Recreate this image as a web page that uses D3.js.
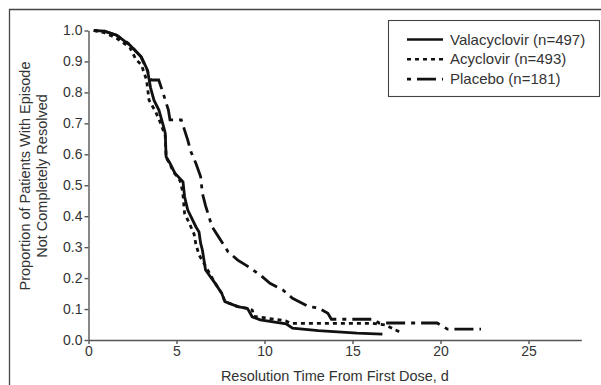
<!DOCTYPE html>
<html>
<head>
<meta charset="utf-8">
<script src="https://cdn.jsdelivr.net/npm/d3@7"></script>
<style>
  body { margin: 0; background: #fff; }
  text { font-family: "Liberation Sans", Arial, sans-serif; fill: #333; }
</style>
</head>
<body>
<div id="my_dataviz"></div>
<script>
var width = 601,
    height = 385

// tick values
var xTicks = [0, 5, 10, 15, 20, 25]
var yTicks = [0, 0.1, 0.2, 0.3, 0.4, 0.5, 0.6, 0.7, 0.8, 0.9, 1.0]

// Valacyclovir (solid)
var valaDays = [0.3, 0.9, 1.6, 2.35, 2.7, 3.0, 3.35, 3.53, 3.72, 4.0, 4.27, 4.36, 4.41, 4.63, 4.91, 5.37, 5.46, 5.64, 6.1, 6.28, 6.37, 6.47, 6.65, 7.2, 7.57, 7.75, 8.48, 9.03, 9.3, 9.76, 11.23, 11.59, 13.06, 15.26, 16.7]
var valaProp = [1.0, 0.998, 0.985, 0.953, 0.932, 0.915, 0.872, 0.814, 0.775, 0.743, 0.689, 0.668, 0.592, 0.571, 0.539, 0.511, 0.463, 0.42, 0.366, 0.349, 0.313, 0.291, 0.226, 0.183, 0.151, 0.124, 0.108, 0.102, 0.075, 0.065, 0.052, 0.038, 0.030, 0.022, 0.019]

// Acyclovir (dotted)
var acyDays = [0.3, 0.9, 1.6, 2.35, 2.71, 3.0, 3.3, 3.44, 3.81, 4.1, 4.36, 4.41, 4.63, 4.82, 5.2, 5.35, 5.46, 5.73, 6.0, 6.1, 6.28, 6.54, 7.2, 7.57, 7.75, 8.48, 9.03, 9.3, 9.4, 9.95, 11.2, 11.5, 16.15, 16.9, 17.46, 17.7]
var acyProp = [1.0, 0.993, 0.975, 0.945, 0.905, 0.89, 0.84, 0.775, 0.738, 0.70, 0.66, 0.59, 0.568, 0.544, 0.515, 0.48, 0.409, 0.377, 0.342, 0.31, 0.275, 0.25, 0.183, 0.151, 0.124, 0.108, 0.102, 0.097, 0.076, 0.072, 0.062, 0.054, 0.054, 0.048, 0.032, 0.025]

// Placebo (dash-dot)
var placDays = [0.3, 0.9, 1.6, 2.35, 2.98, 3.35, 3.55, 3.99, 4.18, 4.54, 4.63, 5.27, 5.64, 5.82, 6.1, 6.37, 6.47, 6.65, 7.02, 7.38, 7.93, 8.48, 8.94, 9.76, 10.31, 11.04, 11.59, 12.14, 12.51, 13.06, 13.6, 13.8, 16.2, 16.5, 19.8, 20.4, 22.3]
var placProp = [1.0, 0.998, 0.985, 0.955, 0.915, 0.87, 0.84, 0.84, 0.808, 0.743, 0.711, 0.711, 0.646, 0.608, 0.571, 0.528, 0.474, 0.434, 0.366, 0.334, 0.285, 0.258, 0.242, 0.21, 0.183, 0.162, 0.135, 0.119, 0.108, 0.104, 0.086, 0.067, 0.067, 0.055, 0.055, 0.035, 0.035]

var seriesNames = ["Valacyclovir (n=497)", "Acyclovir (n=493)", "Placebo (n=181)"]
var dashes = ["none", "4,4", "4,6,19,6"]

var svg = d3.select("#my_dataviz")
  .append("svg")
    .attr("width", width)
    .attr("height", height)

// outer frame (top and left edges only)
svg.append("path")
  .attr("d", "M9.5,385V9.5H601")
  .attr("fill", "none")
  .attr("stroke", "#444")
  .attr("stroke-width", 1.3)

var x = d3.scaleLinear()
  .domain([0, 28])
  .range([88.5, 581.3])

var y = d3.scaleLinear()
  .domain([0, 1])
  .range([340, 30.5])

var xAxis = svg.append("g")
  .attr("transform", "translate(0,340)")
  .call(d3.axisBottom(x).tickValues(xTicks).tickSize(4).tickSizeOuter(0))

var yAxis = svg.append("g")
  .attr("transform", "translate(88.5,0)")
  .call(d3.axisLeft(y).tickValues(yTicks).tickSize(4).tickSizeOuter(0).tickFormat(d3.format(".1f")))

svg.selectAll(".domain, .tick line")
  .attr("stroke", "#555")
  .attr("stroke-width", 1.4)

xAxis.selectAll("text")
  .attr("y", 6)
  .style("font-size", "14px")
  .style("font-family", "'Liberation Sans', Arial, sans-serif")
  .attr("fill", "#333")

yAxis.selectAll("text")
  .attr("x", -6)
  .style("font-size", "14px")
  .style("font-family", "'Liberation Sans', Arial, sans-serif")
  .attr("fill", "#333")

// axis titles
svg.append("text")
  .attr("x", (x(0) + x(28)) / 2)
  .attr("y", 381)
  .attr("text-anchor", "middle")
  .style("font-size", "14.5px")
  .text("Resolution Time From First Dose, d")

var yTitle = svg.append("text")
  .attr("transform", "translate(30,176) rotate(-90)")
  .attr("text-anchor", "middle")
  .style("font-size", "14.5px")
yTitle.append("tspan").attr("x", 0).attr("y", 0).text("Proportion of Patients With Episode")
yTitle.append("tspan").attr("x", 0).attr("y", 17).text("Not Completely Resolved")

// curves
var curves = [
  d3.zip(valaDays, valaProp),
  d3.zip(acyDays, acyProp),
  d3.zip(placDays, placProp)
]

var line = d3.line()
  .x(function(d) { return x(d[0]) })
  .y(function(d) { return y(d[1]) })

svg.selectAll("curves")
  .data(curves)
  .enter()
  .append("path")
    .attr("d", line)
    .attr("fill", "none")
    .attr("stroke", "#111")
    .attr("stroke-width", 2.8)
    .attr("stroke-dasharray", function(d, i) { return dashes[i] })

// legend
svg.append("rect")
  .attr("x", 388.5)
  .attr("y", 20.5)
  .attr("width", 211)
  .attr("height", 76)
  .attr("fill", "#fff")
  .attr("stroke", "#444")
  .attr("stroke-width", 1.1)

svg.selectAll("legendlines")
  .data(seriesNames)
  .enter()
  .append("line")
    .attr("x1", 407)
    .attr("x2", 443)
    .attr("y1", function(d, i) { return 39.5 + i * 19.8 })
    .attr("y2", function(d, i) { return 39.5 + i * 19.8 })
    .attr("stroke", "#111")
    .attr("stroke-width", 2.6)
    .attr("stroke-dasharray", function(d, i) { return dashes[i] })

svg.selectAll("legendlabels")
  .data(seriesNames)
  .enter()
  .append("text")
    .attr("x", 450)
    .attr("y", function(d, i) { return 44.5 + i * 19.8 })
    .style("font-size", "15px")
    .text(function(d) { return d })
</script>
</body>
</html>
